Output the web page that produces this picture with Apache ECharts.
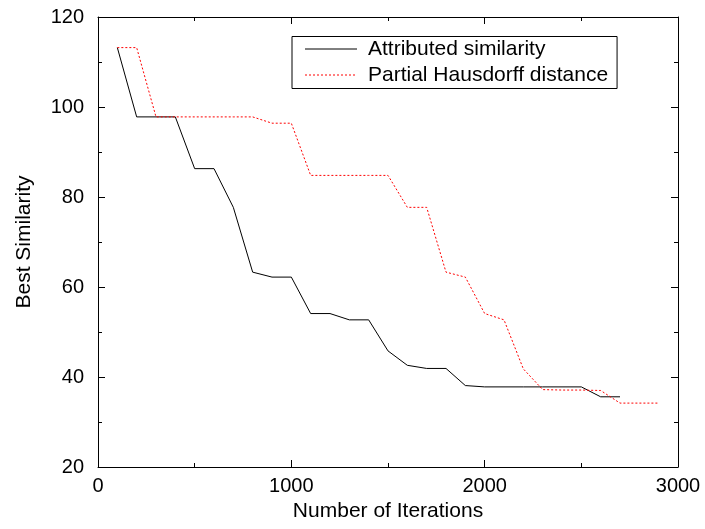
<!DOCTYPE html>
<html>
<head>
<meta charset="utf-8">
<script src="https://cdn.jsdelivr.net/npm/echarts@6/dist/echarts.min.js"></script>
<style>html,body{margin:0;padding:0;background:#fff}#c{width:705px;height:529px}</style>
</head>
<body>
<div id="c"></div>
<script>
const iterAttributed = [100,200,300,400,500,600,700,800,900,1000,1100,1200,1300,1400,1500,1600,1700,1800,1900,2000,2100,2200,2300,2400,2500,2600,2700];
const attributed = [113.2,97.8,97.8,97.8,86.3,86.3,77.7,63.3,62.2,62.2,54.1,54.1,52.7,52.7,45.8,42.6,41.9,41.9,38.1,37.8,37.8,37.8,37.8,37.8,37.8,35.6,35.6];
const iterHausdorff = [100,200,300,400,500,600,700,800,900,1000,1100,1200,1300,1400,1500,1600,1700,1800,1900,2000,2100,2200,2300,2400,2500,2600,2700,2800,2900];
const hausdorff = [113.2,113.2,97.8,97.8,97.8,97.8,97.8,97.8,96.4,96.4,84.8,84.8,84.8,84.8,84.8,77.7,77.7,63.3,62.2,54.1,52.7,41.8,37.2,37.1,37.1,37.0,34.2,34.2,34.2];
const seriesNames = ['Attributed similarity','Partial Hausdorff distance'];
const xTicks = {min:0, max:3000, interval:1000};
const yTicks = {min:20, max:120, interval:20};

const FONT = '"Liberation Sans", Arial, Helvetica, sans-serif';
const pairs = (xs, ys) => xs.map((x,i)=>[x, ys[i]]);
const axisCommon = {
  axisLine:{show:true, onZero:false, lineStyle:{color:'#000', width:1}},
  axisTick:{show:true, inside:true, length:7, lineStyle:{color:'#000'}},
  minorTick:{show:true, splitNumber:2, length:4, lineStyle:{color:'#000'}},
  splitLine:{show:false}, minorSplitLine:{show:false}
};
const chart = echarts.init(document.getElementById('c'), null, {renderer:'canvas'});
chart.setOption({
  animation:false,
  backgroundColor:'#fff',
  textStyle:{fontFamily:FONT},
  grid:{left:98, right:27, top:17, bottom:62, containLabel:false},
  legend:{
    orient:'vertical', left:292, top:36.5,
    padding:[2,9,3,12.5],
    borderColor:'#000', borderWidth:1,
    itemWidth:52, itemHeight:14, itemGap:5,
    itemStyle:{opacity:0},
    lineStyle:{width:1},
    textStyle:{fontFamily:FONT, fontSize:21, color:'#000', lineHeight:21, padding:[0,0,0,6]},
    data:seriesNames
  },
  xAxis:[
    Object.assign({type:'value', position:'bottom', min:xTicks.min, max:xTicks.max, interval:xTicks.interval,
      name:'Number of Iterations', nameLocation:'middle', nameGap:28,
      nameTextStyle:{fontFamily:FONT, fontSize:21, color:'#000'},
      axisLabel:{fontFamily:FONT, fontSize:20, color:'#000', margin:9, formatter:v=>String(v)}}, axisCommon),
    Object.assign({type:'value', position:'top', min:xTicks.min, max:xTicks.max, interval:xTicks.interval,
      axisLabel:{show:false}}, axisCommon)
  ],
  yAxis:[
    Object.assign({type:'value', position:'left', min:yTicks.min, max:yTicks.max, interval:yTicks.interval,
      name:'Best Similarity', nameLocation:'middle', nameGap:63,
      nameTextStyle:{fontFamily:FONT, fontSize:21, color:'#000'},
      axisLabel:{fontFamily:FONT, fontSize:20, color:'#000', margin:14, formatter:v=>String(v)}}, axisCommon),
    Object.assign({type:'value', position:'right', min:yTicks.min, max:yTicks.max, interval:yTicks.interval,
      axisLabel:{show:false}}, axisCommon)
  ],
  series:[
    {name:seriesNames[0], type:'line', xAxisIndex:0, yAxisIndex:0, symbol:'none',
      lineStyle:{color:'#000', width:1, type:'solid'}, itemStyle:{color:'#000'},
      data:pairs(iterAttributed, attributed)},
    {name:seriesNames[1], type:'line', xAxisIndex:0, yAxisIndex:0, symbol:'none',
      lineStyle:{color:'#ff0000', width:1, type:[2,2]}, itemStyle:{color:'#ff0000'},
      data:pairs(iterHausdorff, hausdorff)}
  ]
});
</script>
</body>
</html>
